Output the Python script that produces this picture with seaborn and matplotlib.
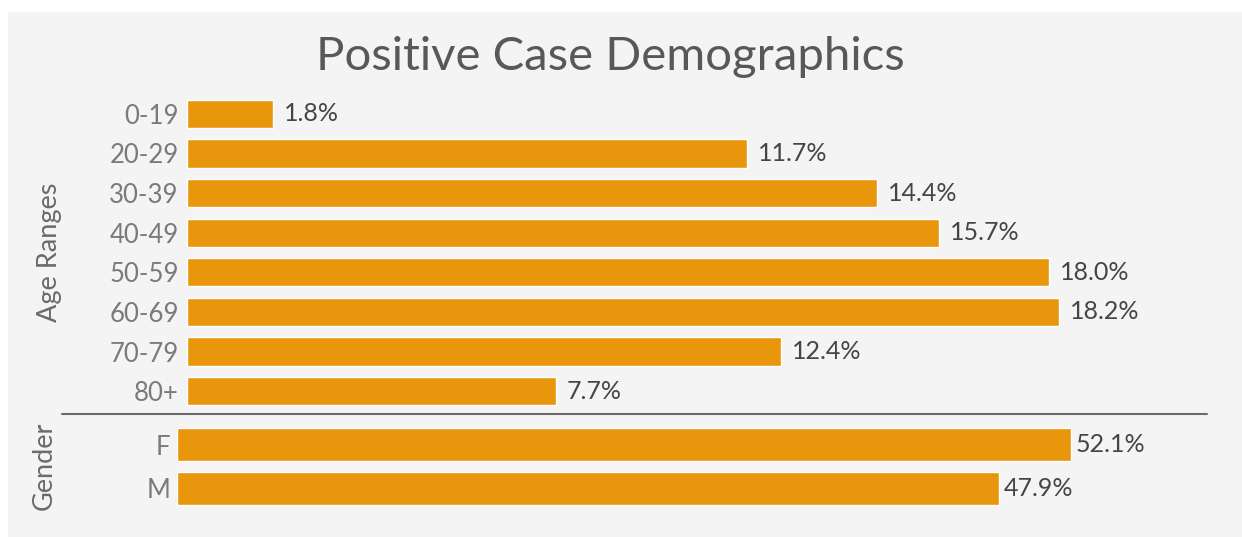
import matplotlib
matplotlib.use("Agg")
import matplotlib.pyplot as plt
import numpy as np
import pandas as pd
import seaborn as sns
from matplotlib.lines import Line2D
from matplotlib.patches import Rectangle

sns.set_theme(style="white")
plt.rcParams["font.family"] = ["Lato", "DejaVu Sans"]

# podaci
age_ranges = ["0-19", "20-29", "30-39", "40-49", "50-59", "60-69", "70-79", "80+"]
age_pct = [1.8, 11.7, 14.4, 15.7, 18.0, 18.2, 12.4, 7.7]
genders = ["F", "M"]
gender_pct = [52.1, 47.9]

BAR = "#E8960B"
BG = "#F4F4F4"
W, H = 1242, 537


def px_axes(fig, left, top, right, bottom):
    # pikselne koordinate slike -> koordinate figure
    return fig.add_axes([left / W, 1 - bottom / H, (right - left) / W, (bottom - top) / H])


def style_ax(ax, pad):
    ax.set_facecolor("none")
    for s in ax.spines.values():
        s.set_visible(False)
    ax.set_xticks([])
    ax.set_xlabel("")
    ax.set_ylabel("")
    ax.tick_params(axis="y", length=0, pad=pad, labelsize=18.5, labelcolor="#7a7a7a")


fig = plt.figure(figsize=(W / 100, H / 100), dpi=100)
fig.patch.set_facecolor("white")
fig.add_artist(Rectangle((8 / W, 0), 1, 1 - 12 / H, transform=fig.transFigure,
                         facecolor=BG, edgecolor="none", zorder=0))

fig.text(610 / W, 1 - 57 / H, "Positive Case Demographics", ha="center", va="center",
         fontsize=34, color="#585858")

# dobne skupine
df_age = pd.DataFrame({"age": age_ranges, "pct": age_pct})
ax1 = px_axes(fig, 187, 94, 1207, 411)
sns.barplot(data=df_age, y="age", x="pct", color=BAR, saturation=1, width=0.71, ax=ax1)
ax1.set_xlim(0, 21.3)
style_ax(ax1, 6)
ax1.bar_label(ax1.containers[0], labels=[f"{v:.1f}%" for v in age_pct],
              padding=8, fontsize=18, color="#454545")

# spol
df_gen = pd.DataFrame({"gender": genders, "pct": gender_pct})
ax2 = px_axes(fig, 177, 423, 1207, 510)
sns.barplot(data=df_gen, y="gender", x="pct", color=BAR, saturation=1, width=0.77, ax=ax2)
ax2.set_xlim(0, 60)
style_ax(ax2, 5)
ax2.bar_label(ax2.containers[0], labels=[f"{v:.1f}%" for v in gender_pct],
              padding=3, fontsize=18, color="#454545")

# razdjelnik i naslovi osi
fig.add_artist(Line2D([62 / W, 1207 / W], [1 - 414 / H, 1 - 414 / H],
                      transform=fig.transFigure, color="#6a6a6a", lw=1.5))
fig.text(49 / W, 1 - 252 / H, "Age Ranges", rotation=90, ha="center", va="center",
         fontsize=19.5, color="#6a6a6a")
fig.text(44 / W, 1 - 466 / H, "Gender", rotation=90, ha="center", va="center",
         fontsize=19.5, color="#6a6a6a")

fig.savefig("out.png", dpi=100, facecolor=fig.get_facecolor())
